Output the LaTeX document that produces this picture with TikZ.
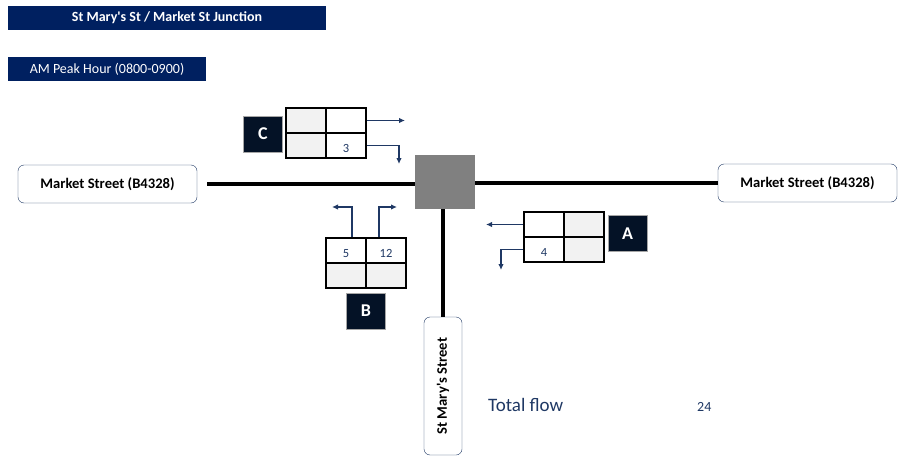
\documentclass[tikz,border=0pt]{standalone}
\usepackage{fontspec}
\setmainfont{Carlito}
\usetikzlibrary{arrows.meta}
\definecolor{navy}{RGB}{0,32,96}
\definecolor{ink}{RGB}{31,56,100}
\definecolor{tagfill}{RGB}{4,18,38}
\definecolor{cellgray}{RGB}{242,242,242}
\definecolor{jngray}{RGB}{128,128,128}
\begin{document}
\begin{tikzpicture}[x=1pt,y=-1pt,
    banner/.style={fill=navy,text=white,inner sep=0pt,minimum height=24pt},
    roadlbl/.style={draw=ink,rounded corners=6pt,fill=white,minimum width=179pt,minimum height=38pt,inner sep=0pt,font=\bfseries\fontsize{14.6}{17}\selectfont},
    road/.style={line width=4pt},
    cell/.style={draw,line width=1.6pt,minimum width=40pt,minimum height=25pt,inner sep=0pt,text height=14pt,text depth=0pt,text=ink,font=\fontsize{12.5}{14}\selectfont},
    gcell/.style={cell,fill=cellgray},
    tagbox/.style={fill=tagfill,draw=gray!70,text=white,minimum width=39pt,minimum height=36pt,inner sep=0pt,font=\bfseries\fontsize{18}{20}\selectfont},
    flow/.style={draw=ink,line width=1.2pt,-{Latex[length=6pt,width=5.5pt]}}]
  \useasboundingbox (0,0) rectangle (899,460);
  \node[banner,minimum width=318pt,font=\bfseries\fontsize{14}{16}\selectfont] (title) at (167,18) {St Mary\textquotesingle s St / Market St Junction};
  \node[banner,minimum width=198pt,font=\fontsize{14}{16}\selectfont] (peak) at (107,69) {AM Peak Hour (0800-0900)};

  \node[roadlbl] (mktW) at (107.5,184) {Market Street (B4328)};
  \node[roadlbl] (mktE) at (807.5,183) {Market Street (B4328)};
  \node[roadlbl,rotate=90,minimum width=138pt] (smst) at (443,386) {St Mary\textquotesingle s Street};
  \node[fill=jngray,minimum width=60pt,minimum height=54pt,inner sep=0pt] (jn) at (445,182) {};
  \draw[road] ([xshift=10pt]mktW.east) -- (mktW.east -| jn.west);
  \draw[road] (jn.east |- mktE.west) -- (mktE.west);
  \draw[road] (smst.east) -- (smst.east |- jn.south);

  \node[gcell] (c11) at (306,120.5) {};
  \node[cell] (c12) at (346,120.5) {};
  \node[gcell] (c21) at (306,145.5) {};
  \node[cell] (c22) at (346,145.5) {3};
  \node[tagbox] (tagC) at (263,134) {C};
  \coordinate (cR) at (405,120.5);
  \coordinate (cD) at (399,164);
  \draw[flow] (c12.east) -- (cR);
  \draw[flow] (c22.east) -| (cD);

  \node[cell] (b11) at (346,250.5) {5};
  \node[cell] (b12) at (386,250.5) {12};
  \node[gcell] (b21) at (346,275.5) {};
  \node[gcell] (b22) at (386,275.5) {};
  \node[tagbox] (tagB) at (366,311) {B};
  \coordinate (bL) at (332,207);
  \coordinate (bR) at (397,207);
  \draw[flow] ([xshift=6pt]b11.north) |- (bL);
  \draw[flow] ([xshift=-7pt]b12.north) |- (bR);

  \node[cell] (a11) at (544,224.5) {};
  \node[gcell] (a12) at (584,224.5) {};
  \node[cell] (a21) at (544,249.5) {4};
  \node[gcell] (a22) at (584,249.5) {};
  \node[tagbox] (tagA) at (627.5,233.5) {A};
  \coordinate (aL) at (486,224.5);
  \coordinate (aD) at (501,270);
  \draw[flow] (a11.west) -- (aL);
  \draw[flow] (a21.west) -| (aD);

  \node[anchor=base west,text=ink,inner sep=0pt,font=\fontsize{19}{22}\selectfont] (tot) at (488,411) {Total flow};
  \node[anchor=base west,text=ink,inner sep=0pt,font=\fontsize{14}{16}\selectfont] (totval) at (697,411) {24};
\end{tikzpicture}
\end{document}
